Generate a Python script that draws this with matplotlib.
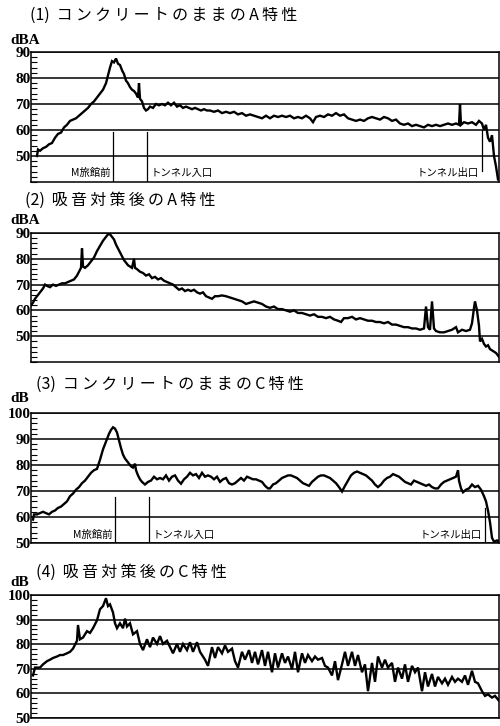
import matplotlib
matplotlib.use("Agg")
import matplotlib.pyplot as plt
from matplotlib.ticker import MultipleLocator, FixedLocator

# ---------------- data ----------------
title_nums = ["(1)", "(2)", "(3)", "(4)"]
titles = ["コンクリートのままのA特性", "吸音対策後のA特性",
          "コンクリートのままのC特性", "吸音対策後のC特性"]
units = ["dBA", "dBA", "dB", "dB"]

x1 = [37, 38, 40, 43, 46, 49, 52, 55, 58, 61, 64, 67, 70, 73, 76, 79, 82, 85, 88, 91, 94, 97, 100,
      103, 106, 108, 110, 112, 114, 116, 118, 120, 122, 124, 126, 128, 130, 132, 134, 136, 138, 139,
      140, 142, 144, 146, 148, 150, 153, 156, 159, 162, 165, 168, 171, 174, 177, 180, 183, 186, 189,
      192, 195, 198, 201, 204, 207, 210, 214, 218, 222, 226, 230, 234, 238, 242, 246, 250, 254, 258,
      262, 266, 270, 274, 278, 282, 286, 290, 294, 298, 302, 306, 310, 313, 316, 320, 324, 328, 332,
      336, 340, 344, 348, 352, 356, 360, 364, 368, 372, 376, 380, 384, 388, 392, 396, 400, 404, 408,
      412, 416, 420, 424, 428, 432, 436, 440, 444, 448, 452, 456, 459, 460, 461, 464, 468, 472, 476,
      479, 482, 484, 486, 488, 490, 492, 494, 496, 498]
y1 = [50, 52.5, 52, 53, 53.5, 54.5, 55, 57, 58.5, 59, 61, 62, 63.5, 64, 64.5, 65.5, 66.5, 67.5, 68.5,
      70, 71, 72.5, 74, 75.5, 78, 81, 84, 86.5, 86, 87.5, 85.5, 85, 83, 81.5, 79, 78, 76.5, 75.5, 75,
      74, 72.5, 78, 72, 71, 68.5, 67.5, 68, 69, 68.5, 70, 69.5, 70, 69.5, 70.5, 69.5, 70.5, 69, 69.5,
      68.5, 69, 68.5, 68, 68.5, 68, 67.5, 68, 67.5, 67.5, 67, 67.5, 66.5, 67, 66.5, 67, 66, 66.5, 65.5,
      66, 65.5, 65, 64.5, 65.5, 64.5, 65.5, 65, 65.5, 65, 65.5, 64.5, 65, 64.5, 65.5, 64.5, 63, 65,
      65.5, 65, 66, 65.5, 66.5, 65.5, 66, 64.5, 64, 63.5, 64, 63.5, 64.5, 65, 64.5, 64, 65, 64.5, 63.5,
      64, 62.5, 62, 62.5, 61.5, 62, 61.5, 61, 62, 61.5, 62, 61.5, 62, 62.5, 62, 62.5, 62, 70, 62, 63,
      62.5, 63, 62, 63.5, 62.5, 60, 62, 57, 55.5, 58, 50, 46, 41]

x2 = [31, 33, 35, 37, 39, 41, 43, 45, 47, 50, 53, 56, 59, 62, 65, 68, 71, 74, 77, 79, 81, 82, 83, 85,
      88, 91, 94, 97, 100, 103, 106, 108, 110, 112, 114, 116, 118, 120, 122, 124, 126, 128, 130, 132,
      134, 135, 137, 140, 143, 146, 149, 152, 155, 158, 161, 164, 167, 170, 173, 176, 179, 182, 185,
      188, 191, 194, 197, 200, 203, 206, 209, 212, 215, 218, 222, 226, 230, 234, 238, 242, 246, 250,
      254, 258, 262, 266, 270, 274, 278, 282, 286, 290, 294, 298, 302, 306, 310, 314, 318, 322, 326,
      330, 334, 338, 341, 344, 348, 352, 356, 360, 364, 368, 372, 376, 380, 384, 388, 392, 396, 400,
      404, 408, 412, 416, 420, 424, 426, 428, 430, 432, 434, 436, 440, 444, 448, 452, 456, 458, 462,
      466, 470, 472, 474, 475, 477, 479, 480, 482, 484, 486, 488, 490, 492, 494, 496, 499]
y2 = [62, 63, 64.5, 65.5, 66.5, 67.5, 68.5, 70, 69.5, 69, 70, 69.5, 70, 70.5, 70.5, 71, 71.5, 72,
      73.5, 75, 76.5, 84, 77, 76.5, 77.5, 79, 80.5, 83, 85, 87, 88.5, 89.5, 89.5, 88.5, 87.5, 85.5, 84,
      82.5, 81, 79.5, 78.5, 77.5, 77, 76.5, 80, 76.5, 76, 75, 74.5, 73.5, 74, 72.5, 73, 72, 72.5, 71.5,
      71, 70.5, 70, 69, 68, 68.5, 67.5, 68, 67.5, 68, 67, 66.5, 67, 65.5, 65, 64.5, 65.5, 65.5, 65.8,
      65.5, 65, 64.5, 64, 63.5, 62.5, 63, 63.5, 63, 62.5, 61.5, 61, 61.5, 60.5, 60.5, 60, 59.5, 60, 59,
      59, 58.5, 58, 58.5, 57.5, 57.5, 57, 57.5, 56.5, 56, 55.5, 57, 57, 57.5, 56.5, 57, 56.5, 56, 56,
      55.5, 55.5, 55, 55.5, 54.5, 54.5, 54, 53.5, 53.5, 53, 53, 52.5, 53, 61.5, 53.5, 52.5, 63.5, 53,
      52, 51.5, 51.5, 52, 52.5, 53.5, 51.5, 52.5, 52, 52.5, 55, 61, 63.5, 60, 54, 48, 49, 47, 46, 46.5,
      45, 44.5, 44, 43.5, 42]

x3 = [33, 34, 37, 40, 43, 46, 49, 52, 55, 58, 61, 64, 67, 70, 73, 76, 79, 82, 85, 88, 91, 94, 97, 100,
      103, 106, 109, 111, 113, 115, 117, 119, 121, 123, 125, 127, 129, 131, 133, 135, 136, 138, 140,
      142, 145, 148, 151, 154, 157, 160, 163, 166, 169, 172, 175, 178, 181, 184, 187, 190, 193, 196,
      199, 202, 205, 208, 211, 214, 217, 220, 223, 226, 229, 232, 235, 238, 241, 244, 247, 250, 253,
      256, 259, 262, 265, 268, 270, 273, 276, 279, 282, 285, 288, 291, 294, 297, 300, 303, 306, 309,
      312, 315, 318, 321, 324, 327, 330, 333, 336, 339, 342, 345, 348, 351, 354, 357, 360, 363, 366,
      369, 372, 375, 378, 381, 384, 387, 390, 393, 396, 399, 402, 405, 408, 411, 414, 417, 420, 423,
      426, 429, 432, 435, 438, 441, 444, 447, 450, 453, 456, 458, 459, 461, 463, 466, 469, 472, 475,
      478, 481, 484, 486, 488, 490, 492, 494, 497, 499]
y3 = [59, 61, 61, 61.5, 62, 61.5, 61, 62, 62.5, 63.5, 64, 65, 66, 68, 69, 70.5, 71.5, 73, 74, 75.5,
      77, 78, 78.5, 82, 86, 89, 92, 93.5, 94.5, 94, 92.5, 89.5, 86.5, 84, 82.5, 81.5, 80.5, 79.5, 79,
      80.5, 78, 76, 74.5, 73.5, 72.5, 73.5, 74, 75.5, 74.5, 75, 74.5, 76, 74, 75.5, 76, 74, 72.8, 74.5,
      75.5, 77, 76, 76.5, 75, 77, 75.5, 76, 75.5, 74.5, 75.5, 73.5, 74.5, 75, 73, 72.5, 73, 74, 75, 74,
      75.5, 75, 74.5, 74.5, 74, 73.5, 72, 71, 71, 72.5, 73, 74, 75, 75.5, 76, 76, 75.5, 75, 74, 73,
      72.5, 72, 73.5, 74.5, 75.5, 76, 76, 75.5, 75, 74, 73, 71.5, 69.8, 72, 74, 76, 77, 77.5, 77, 76.5,
      76, 75, 74, 72.5, 71.5, 72.5, 74, 75, 75.5, 76.5, 76, 75.5, 74.5, 73.5, 73, 72.5, 74, 73.5, 73,
      72.5, 72, 72.5, 71.5, 71, 71, 72.5, 73.5, 74, 74.5, 75, 75.5, 78, 74, 71, 69.5, 70.5, 71, 72.5,
      71.5, 72, 70.5, 68, 66, 62.5, 58, 52, 50.5, 51, 50.5]

x4 = [33, 35, 40, 43, 47, 50, 53, 57, 60, 63, 67, 70, 73, 77, 78, 80, 83, 87, 90, 93, 97, 100, 103,
      106, 108, 110, 113, 115, 117, 120, 123, 125, 127, 130, 133, 137, 140, 143, 147, 150, 153, 157,
      160, 163, 167, 170, 173, 177, 180, 183, 187, 190, 193, 197, 200, 205, 208, 212, 215, 218, 222,
      225, 228, 232, 235, 238, 242, 245, 249, 252, 255, 258, 262, 265, 268, 272, 275, 278, 282, 285,
      288, 292, 295, 298, 302, 305, 308, 312, 315, 318, 322, 325, 328, 332, 335, 338, 342, 345, 348,
      352, 355, 358, 362, 365, 368, 372, 375, 378, 382, 385, 388, 392, 395, 398, 402, 405, 408, 412,
      415, 418, 422, 425, 428, 432, 435, 438, 442, 445, 448, 452, 455, 458, 462, 465, 468, 472, 475,
      478, 482, 485, 488, 492, 495, 499]
y4 = [67.3, 70.5, 70.5, 71.8, 73.1, 73.7, 74.4, 75, 75.6, 75.6, 76.3, 76.9, 78.2, 81.4, 87.8, 82,
      82.7, 85.3, 84.6, 86.5, 89.7, 94.2, 95.5, 98.7, 95.5, 96.2, 92.9, 88.5, 86.5, 88.5, 86.5, 90.4,
      87.2, 88.5, 84, 85.3, 80.1, 77.6, 82, 78.8, 82.7, 80.1, 83.3, 80.1, 81.4, 78.8, 76.3, 80.1, 76.9,
      80.1, 77.6, 80.8, 76.9, 80.8, 76.9, 73.7, 71.2, 78.8, 74.4, 78.8, 76.3, 79.5, 76.9, 78.2, 73.1,
      70.5, 76.9, 73.7, 77.6, 72.4, 76.9, 71.8, 77.6, 71.2, 76.9, 68.6, 76.3, 70.5, 76.3, 72.4, 75,
      69.9, 76.9, 68.6, 76.3, 72.4, 75.6, 73.1, 75, 73.7, 74.4, 71.2, 70.5, 67.3, 73.1, 65.4, 71.8,
      76.9, 71.2, 76.9, 71.2, 75.6, 68.6, 71.8, 60.9, 72.4, 64.7, 75, 70.5, 73.7, 70.5, 72.4, 64.7,
      70.5, 66, 71.8, 64.7, 71.2, 68.6, 70.5, 60.9, 68.6, 62.8, 67.9, 62.8, 66.7, 64.1, 66, 63.5, 66.7,
      64.7, 66, 64.7, 67.3, 63.5, 69.2, 64.7, 64.1, 60.9, 59, 59.6, 58.3, 59, 57]

xs = [x1, x2, x3, x4]
ys = [y1, y2, y3, y4]

ylims = [(40, 90), (40, 90), (50, 100), (50, 100)]
yticklabels_vals = [[50, 60, 70, 80, 90], [50, 60, 70, 80, 90],
                    [50, 60, 70, 80, 90, 100], [50, 60, 70, 80, 90, 100]]

# location markers
mark_panel = [0, 0, 0, 2, 2, 2]
mark_x = [113, 147, 482, 115, 149, 485]
mark_top = [59.2, 59.2, 60, 67.7, 67.7, 63.5]
mark_bot = [40, 40, 44.2, 50, 50, 50]
mark_label = ["M旅館前", "トンネル入口", "トンネル出口", "M旅館前", "トンネル入口", "トンネル出口"]
mark_side = ["left", "right", "left", "left", "right", "left"]
mark_label_y = [43.5, 43.5, 43.5, 53, 53, 53]

# ---------------- layout ----------------
W, H = 500, 726
fig = plt.figure(figsize=(W / 100, H / 100), dpi=100)

panel_px = [(52, 182), (233, 362), (413, 543), (595, 718)]  # top, bottom
L, R = 31, 499
title_px = [(30, 15), (25, 200), (36, 384), (36, 572)]
unit_px = [(10, 41), (10, 221), (10, 399), (10, 583)]

CJK = ["Noto Sans CJK JP", "DejaVu Sans"]
SERIF = ["Liberation Serif", "DejaVu Serif"]
THIN = "\u2009"

for i in range(4):
    top, bot = panel_px[i]
    ax = fig.add_axes([L / W, 1 - bot / H, (R - L) / W, (bot - top) / H])
    ax.plot(xs[i], ys[i], color="black", lw=1.7, solid_joinstyle="miter")
    ax.set_xlim(L, R)
    ax.set_ylim(*ylims[i])
    for v in yticklabels_vals[i]:
        ax.axhline(v, color="black", lw=1.1, zorder=0)
    ax.yaxis.set_major_locator(FixedLocator(yticklabels_vals[i]))
    ax.set_yticklabels([str(v) for v in yticklabels_vals[i]], fontfamily=SERIF,
                       fontweight="bold", fontsize=11)
    ax.yaxis.set_minor_locator(MultipleLocator(2))
    ax.tick_params(axis="y", which="major", length=0, pad=0.5)
    ax.tick_params(axis="y", which="minor", direction="in", length=4, width=0.8)
    ax.set_xticks([])
    for s in ax.spines.values():
        s.set_linewidth(1.1)

    for k in range(len(mark_x)):
        if mark_panel[k] != i:
            continue
        ax.plot([mark_x[k], mark_x[k]], [mark_bot[k], mark_top[k]], color="black", lw=0.9)
        if mark_side[k] == "left":
            ax.text(mark_x[k] - 3, mark_label_y[k], mark_label[k], ha="right", va="center",
                    fontsize=7.5, fontfamily=CJK)
        else:
            ax.text(mark_x[k] + 4, mark_label_y[k], mark_label[k], ha="left", va="center",
                    fontsize=7.5, fontfamily=CJK)

    tx, ty = title_px[i]
    label = title_nums[i] + " " + THIN + THIN.join(list(titles[i]))
    fig.text(tx / W, 1 - ty / H, label, ha="left", va="center", fontsize=11.5,
             fontfamily=CJK)
    ux, uy = unit_px[i]
    fig.text(ux / W, 1 - uy / H, units[i], ha="left", va="center", fontsize=11,
             fontfamily=SERIF, fontweight="bold")

fig.savefig("out.png", dpi=100)
